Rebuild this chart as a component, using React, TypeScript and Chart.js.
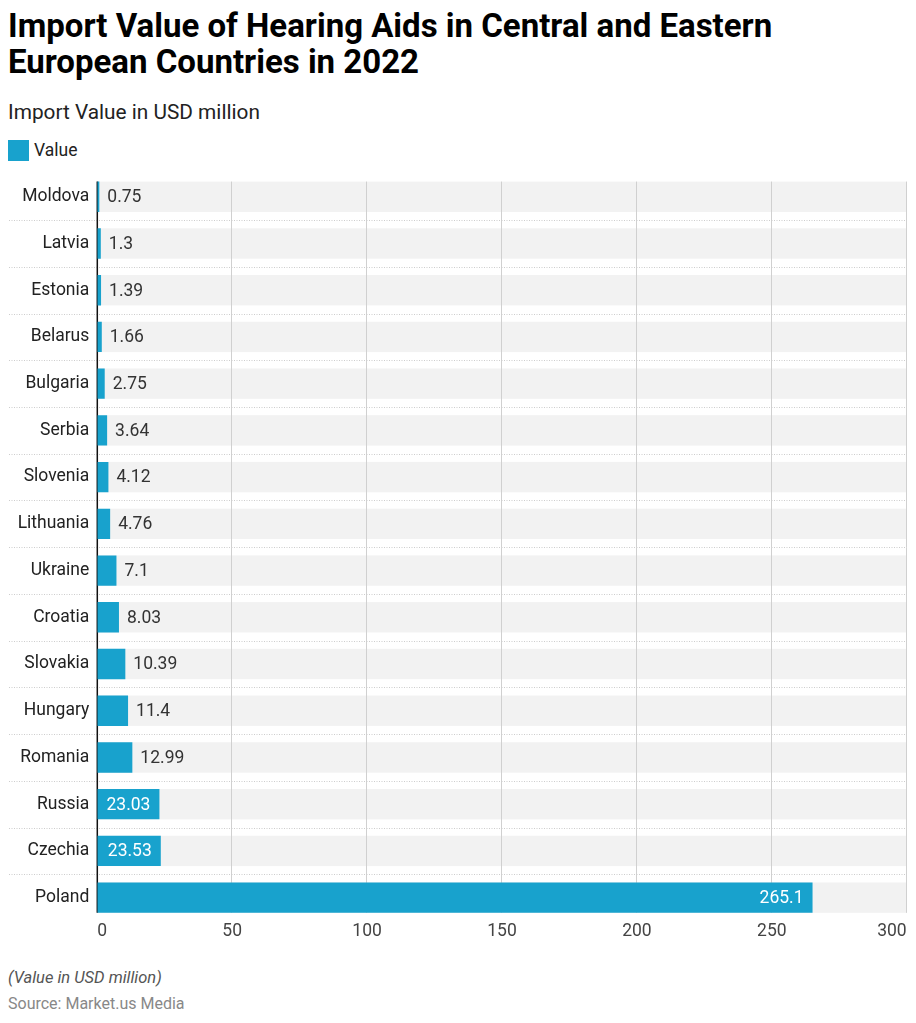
import React, { useEffect, useRef } from "react";
import { Chart, registerables } from "chart.js";

Chart.register(...registerables);

const countries: string[] = [
  "Moldova", "Latvia", "Estonia", "Belarus", "Bulgaria", "Serbia", "Slovenia", "Lithuania",
  "Ukraine", "Croatia", "Slovakia", "Hungary", "Romania", "Russia", "Czechia", "Poland",
];
const importValues: number[] = [
  0.75, 1.3, 1.39, 1.66, 2.75, 3.64, 4.12, 4.76, 7.1, 8.03, 10.39, 11.4, 12.99, 23.03, 23.53, 265.1,
];
const xMin = 0;
const xMax = 300;
const xStep = 50;
const seriesName = "Value";

const BAR_COLOR = "#18a2cd";
const BAND_COLOR = "#f2f2f2";
const GRID_COLOR = "#d0d0d0";
const DOT_COLOR = "#cdcdcd";
const FONT = "Roboto";
const FS = 17.5;

const decorPlugin = {
  id: "decor",
  beforeDatasetsDraw(chart: any) {
    const { ctx, chartArea, scales } = chart;
    const xs = scales.x;
    const bars = chart.getDatasetMeta(0).data as any[];
    if (!bars.length) return;
    ctx.save();
    ctx.fillStyle = BAND_COLOR;
    bars.forEach((b) => {
      ctx.fillRect(chartArea.left, b.y - b.height / 2, chartArea.right - chartArea.left, b.height);
    });
    const first = bars[0];
    const last = bars[bars.length - 1];
    const top = first.y - first.height / 2;
    const bottom = last.y + last.height / 2;
    ctx.strokeStyle = GRID_COLOR;
    ctx.lineWidth = 1;
    xs.ticks.forEach((t: any) => {
      if (t.value === xMin) return;
      const px = Math.round(xs.getPixelForValue(t.value)) - 0.5;
      ctx.beginPath();
      ctx.moveTo(px, top);
      ctx.lineTo(px, bottom);
      ctx.stroke();
    });
    ctx.strokeStyle = DOT_COLOR;
    ctx.setLineDash([1, 1.5]);
    for (let i = 1; i < bars.length; i++) {
      const yy = Math.round((bars[i - 1].y + bars[i].y) / 2) + 0.5;
      ctx.beginPath();
      ctx.moveTo(1, yy);
      ctx.lineTo(chartArea.right, yy);
      ctx.stroke();
    }
    ctx.setLineDash([]);
    const ax = xs.getPixelForValue(xMin);
    ctx.strokeStyle = "#111";
    ctx.lineWidth = 1.5;
    ctx.beginPath();
    ctx.moveTo(ax, top);
    ctx.lineTo(ax, bottom);
    ctx.stroke();
    ctx.restore();
  },
  afterDatasetsDraw(chart: any) {
    const { ctx } = chart;
    const bars = chart.getDatasetMeta(0).data as any[];
    const data = chart.data.datasets[0].data as number[];
    ctx.save();
    ctx.font = `400 ${FS}px ${FONT}`;
    ctx.textBaseline = "middle";
    bars.forEach((b, i) => {
      const label = String(data[i]);
      const tw = ctx.measureText(label).width;
      const bw = b.x - b.base;
      if (bw >= tw + 18) {
        ctx.fillStyle = "#ffffff";
        ctx.textAlign = "right";
        ctx.fillText(label, b.x - 9, b.y + 1);
      } else {
        ctx.fillStyle = "#333333";
        ctx.textAlign = "left";
        ctx.fillText(label, b.x + 8, b.y + 1);
      }
    });
    ctx.restore();
  },
};

function BarChart() {
  const ref = useRef<HTMLCanvasElement | null>(null);
  useEffect(() => {
    if (!ref.current) return;
    const chart = new Chart(ref.current, {
      type: "bar",
      data: {
        labels: countries,
        datasets: [
          {
            label: seriesName,
            data: importValues,
            backgroundColor: BAR_COLOR,
            borderWidth: 0,
            barPercentage: 0.65,
            categoryPercentage: 1,
          },
        ],
      },
      options: {
        indexAxis: "y",
        animation: false,
        responsive: true,
        maintainAspectRatio: false,
        events: [],
        layout: {
          autoPadding: false,
          padding: { left: 0, right: 1.3, top: 12.4, bottom: 0 },
        },
        plugins: {
          legend: { display: false },
          tooltip: { enabled: false },
        },
        scales: {
          x: {
            type: "linear",
            min: xMin,
            max: xMax,
            grid: { display: false, drawTicks: false },
            border: { display: false },
            ticks: {
              stepSize: xStep,
              align: "inner",
              padding: 0,
              color: "#444",
              font: { family: FONT, size: FS },
            },
            afterFit: (scale: any) => {
              scale.paddingLeft = 0;
              scale.paddingRight = 0;
              scale.paddingTop = 0;
              scale.paddingBottom = 0;
              scale.height = 22;
            },
          },
          y: {
            type: "category",
            grid: { display: false, drawTicks: false },
            border: { display: false },
            ticks: {
              padding: 8,
              color: "#222",
              font: { family: FONT, size: FS },
            },
            afterFit: (scale: any) => {
              scale.width = 89.3;
              scale.paddingTop = 0;
              scale.paddingBottom = 0;
              scale.paddingLeft = 0;
              scale.paddingRight = 0;
            },
          },
        },
      },
      plugins: [decorPlugin],
    } as any);
    return () => chart.destroy();
  }, []);
  return (
    <div style={{ position: "relative", width: 900, height: 782 }}>
      <canvas ref={ref} />
    </div>
  );
}

export default function App() {
  return (
    <div style={{ width: 900, fontFamily: FONT, color: "#111" }}>
      <div style={{ font: `700 33px/36px ${FONT}`, color: "#000" }}>
        Import Value of Hearing Aids in Central and Eastern
        <br />
        European Countries in 2022
      </div>
      <div style={{ font: `400 20.8px/24px ${FONT}`, color: "#222", marginTop: 20 }}>
        Import Value in USD million
      </div>
      <div style={{ display: "flex", alignItems: "center", height: 21, marginTop: 16 }}>
        <div style={{ width: 21, height: 21, background: BAR_COLOR, marginRight: 5 }} />
        <span style={{ font: `400 ${FS}px/21px ${FONT}`, color: "#222" }}>{seriesName}</span>
      </div>
      <BarChart />
      <div style={{ font: `italic 400 16.5px/20px ${FONT}`, color: "#555", marginTop: 25 }}>
        (Value in USD million)
      </div>
      <div style={{ font: `400 16px/20px ${FONT}`, color: "#888", marginTop: 6 }}>
        Source: Market.us Media
      </div>
    </div>
  );
}
